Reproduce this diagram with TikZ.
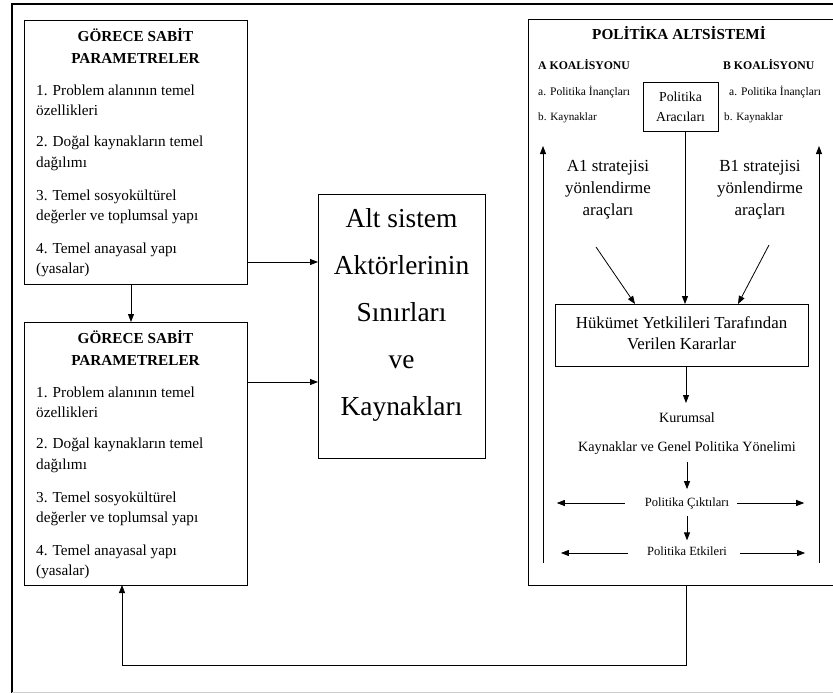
\documentclass[tikz,border=0pt]{standalone}
\usepackage{fontspec}
\setmainfont{Liberation Serif}
\usetikzlibrary{arrows.meta}
\tikzset{
  box/.style={draw, line width=0.9bp, inner sep=0pt, outer sep=0pt},
  arr/.style={-{Triangle[length=8bp,width=6bp]}, line width=0.8bp},
  ln/.style={line width=0.8bp},
  ttl/.style={inner sep=0pt, align=center, font=\bfseries\fontsize{15.3}{22}\selectfont},
  itm/.style={inner sep=0pt, anchor=west, align=left, font=\fontsize{15.3}{20.5}\selectfont},
  big/.style={inner sep=0pt, align=center, font=\fontsize{27.5}{47}\selectfont},
  rttl/.style={inner sep=0pt, font=\bfseries\fontsize{15.3}{18}\selectfont},
  koal/.style={inner sep=0pt, anchor=west, font=\bfseries\fontsize{11.8}{14}\selectfont},
  smla/.style={inner sep=0pt, anchor=west, font=\fontsize{11.6}{14}\selectfont},
  smlb/.style={inner sep=0pt, anchor=west, font=\fontsize{11.2}{13}\selectfont},
  mid/.style={inner sep=0pt, align=center, font=\fontsize{17}{22}\selectfont},
  pab/.style={inner sep=0pt, align=center, font=\fontsize{13.8}{20}\selectfont},
  hkt/.style={inner sep=0pt, align=center, font=\fontsize{16.9}{20.5}\selectfont},
  kurtext/.style={inner sep=0pt, align=center, font=\fontsize{14.2}{17}\selectfont},
  outtext/.style={inner sep=0pt, align=center, font=\fontsize{12.6}{15}\selectfont},
}
\begin{document}
\begin{tikzpicture}[x=1bp,y=-1bp]
\useasboundingbox (0,0) rectangle (833,693);
\clip (0,0) rectangle (833,693);
% outer frame
\draw[line width=2bp] (12,693) -- (12,4);
\draw[line width=1.3bp] (11,4) -- (850,4);
\draw[gray!40, line width=0.8bp] (12,692) -- (850,692);

% left boxes
\node[box, minimum width=223bp, minimum height=264bp] (top) at (135.5,152) {};
\node[ttl] (toptitle) at (135.5,46) {GÖRECE SABİT\\PARAMETRELER};
\node[itm] (t1) at (36,100) {1. Problem alanının temel\\özellikleri};
\node[itm] (t2) at (36,153.5) {2. Doğal kaynakların temel\\dağılımı};
\node[itm] (t3) at (36,207) {3. Temel sosyokültürel\\değerler ve toplumsal yapı};
\node[itm] (t4) at (36,260) {4. Temel anayasal yapı\\(yasalar)};

\node[box, minimum width=223bp, minimum height=263bp] (bot) at (135.5,453.5) {};
\node[ttl] (bottitle) at (135.5,348) {GÖRECE SABİT\\PARAMETRELER};
\node[itm] (b1) at (36,402) {1. Problem alanının temel\\özellikleri};
\node[itm] (b2) at (36,455.5) {2. Doğal kaynakların temel\\dağılımı};
\node[itm] (b3) at (36,509) {3. Temel sosyokültürel\\değerler ve toplumsal yapı};
\node[itm] (b4) at (36,562) {4. Temel anayasal yapı\\(yasalar)};

% centre box
\node[box, minimum width=167bp, minimum height=264bp] (ctr) at (401.5,326) {};
\node[big] (ctrtext) at (401.5,315) {Alt sistem\\Aktörlerinin\\Sınırları\\ve\\Kaynakları};

% right box
\node[box, minimum width=317bp, minimum height=566bp] (rbox) at (686.5,302) {};
\node[rttl] (rtitle) at (679,33) {POLİTİKA ALTSİSTEMİ};
\node[koal] (ak) at (538,65) {A KOALİSYONU};
\node[koal] (bk) at (723,65) {B KOALİSYONU};
\node[smla] (aa) at (538,92) {a. Politika İnançları};
\node[smlb] (ab) at (538,118) {b. Kaynaklar};
\node[smla] (ba) at (729,92) {a. Politika İnançları};
\node[smlb] (bb) at (724,118) {b. Kaynaklar};
\node[box, minimum width=75bp, minimum height=49bp] (pa) at (680.5,106.5) {};
\node[pab] (patext) at (680.5,107) {Politika\\Aracıları};

\node[mid] (a1) at (608,190) {A1 stratejisi\\yönlendirme\\araçları};
\node[mid] (b1s) at (760,190) {B1 stratejisi\\yönlendirme\\araçları};

\node[box, minimum width=253bp, minimum height=62bp] (hk) at (681.5,335) {};
\node[hkt] (hktext) at (681.5,333) {Hükümet Yetkilileri Tarafından\\Verilen Kararlar};

\node[kurtext] (kur) at (687,418) {Kurumsal};
\node[kurtext] (kgp) at (687,448) {Kaynaklar ve Genel Politika Yönelimi};
\node[outtext] (pc) at (687,503) {Politika Çıktıları};
\node[outtext] (pe) at (687,551) {Politika Etkileri};

% free ends
\coordinate (a1s) at (596,247);
\coordinate (a1e) at (635,304);
\coordinate (b1st) at (769,245);
\coordinate (b1e) at (738,304);
\coordinate (lvb) at (543,563);
\coordinate (lvt) at (543,146);
\coordinate (rvb) at (819,563);
\coordinate (rvt) at (819,146);

% connectors left part
\draw[arr] ([yshift=22bp]top.south east) -- ([yshift=22bp]top.south east -| ctr.west);
\draw[arr] ([xshift=-4.5bp]top.south) -- ([xshift=-4.5bp]bot.north);
\draw[arr] ([yshift=-60bp]bot.north east) -- ([yshift=-60bp]bot.north east -| ctr.west);
\draw[arr] (rbox.south) -- ++(0,80) -| ([xshift=-13.5bp]bot.south);

% connectors right part
\draw[arr] ([xshift=4.5bp]pa.south) -- ([xshift=4.5bp]pa.south |- hk.north);
\draw[arr] (a1s) -- (a1e);
\draw[arr] (b1st) -- (b1e);
\draw[arr] ([xshift=4.5bp]hk.south) -- ++(0,37);
\draw[arr, shorten <=7bp, shorten >=8bp] (kgp.south) -- (kgp.south |- pc.north);
\draw[arr, shorten <=7bp, shorten >=6bp] (pc.south) -- (pc.south |- pe.north);
\draw[arr] ([xshift=-20bp]pc.west) -- ++(-68,0);
\draw[arr] ([xshift=8bp]pc.east) -- ++(67,0);
\draw[arr] ([xshift=-19bp,yshift=-2bp]pe.west) -- ++(-67,0);
\draw[arr] ([xshift=13bp,yshift=-2bp]pe.east) -- ++(65,0);
\draw[arr] (lvb) -- (lvt);
\draw[arr] (rvb) -- (rvt);
\end{tikzpicture}
\end{document}
